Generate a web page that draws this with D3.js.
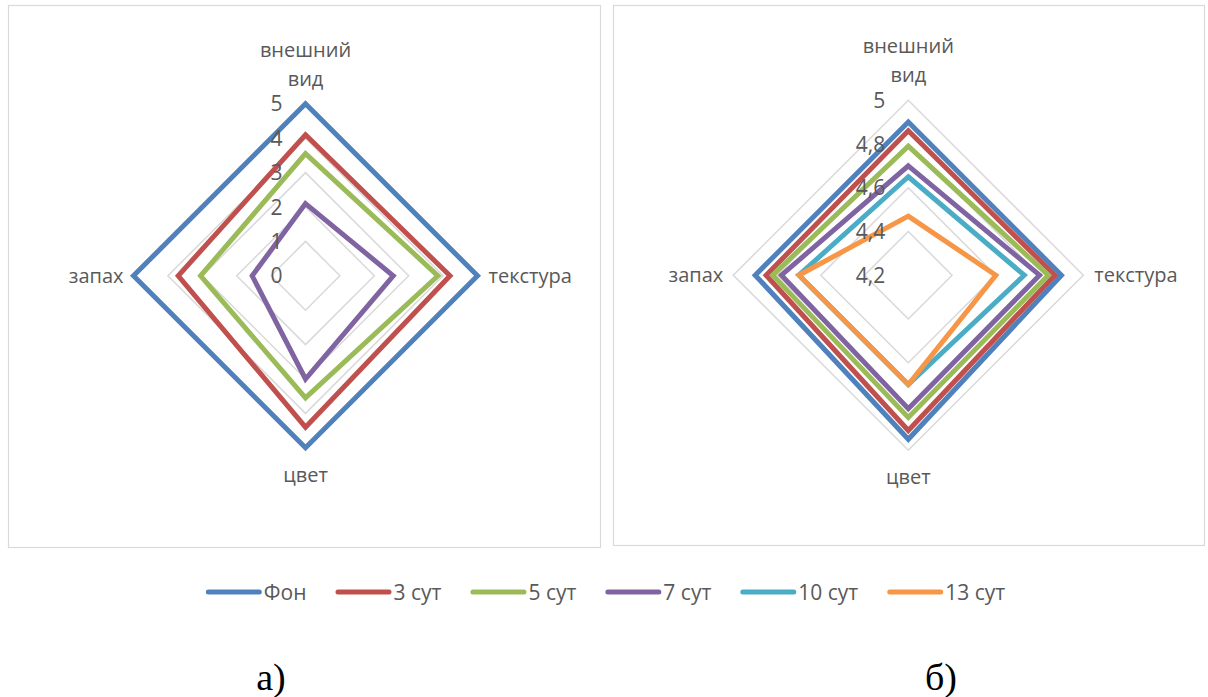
<!DOCTYPE html>
<html>
<head>
<meta charset="utf-8">
<script src="https://cdnjs.cloudflare.com/ajax/libs/d3/7.8.5/d3.min.js"></script>
<style>
  html, body { margin: 0; padding: 0; background: #fff; }
  svg { display: block; }
  .cat { font-family: "Open Sans", "Noto Sans", sans-serif; font-size: 20px; fill: #595959; }
  .tick { font-family: "Open Sans", "Noto Sans", sans-serif; font-size: 21px; fill: #595959; }
  .leg { font-family: "Open Sans", "Noto Sans", sans-serif; font-size: 21px; fill: #595959; }
  .cap { font-family: "Liberation Serif", "Times New Roman", serif; font-size: 38px; fill: #000; }
</style>
</head>
<body>
<svg id="chart" width="1208" height="697"></svg>
<script>
// Radar axes, clockwise from the top
const axes = ["внешний вид", "текстура", "цвет", "запах"];
const seriesNames = ["Фон", "3 сут", "5 сут", "7 сут", "10 сут", "13 сут"];

// Panel а): full 0–5 scale
const aFon = [5, 5, 5, 5];
const a3 = [4.1, 4.2, 4.4, 3.7];
const a5 = [3.55, 3.85, 3.55, 3.05];
const a7 = [2.1, 2.55, 3.0, 1.55];
const ticksA = [0, 1, 2, 3, 4, 5];

// Panel б): close-up 4,2–5 scale
const bFon = [4.9, 4.9, 4.95, 4.9];
const b3 = [4.86, 4.87, 4.91, 4.85];
const b5 = [4.79, 4.84, 4.85, 4.82];
const b7 = [4.7, 4.8, 4.81, 4.78];
const b10 = [4.65, 4.73, 4.7, 4.7];
const b13 = [4.47, 4.6, 4.7, 4.7];
const ticksB = [4.2, 4.4, 4.6, 4.8, 5];

const palette = ["#4F81BD", "#C0504D", "#9BBB59", "#8064A2", "#4BACC6", "#F79646"];
const fmt = d3.formatLocale({ decimal: ",", thousands: " ", grouping: [3], currency: ["", ""] }).format("~g");

const svg = d3.select("#chart");

function radar(opts) {
  const g = svg.append("g");
  // panel frame
  g.append("rect")
    .attr("x", opts.frame[0]).attr("y", opts.frame[1])
    .attr("width", opts.frame[2]).attr("height", opts.frame[3])
    .attr("fill", "#fff").attr("stroke", "#d9d9d9").attr("stroke-width", 1.2);

  const r = d3.scaleLinear().domain(opts.domain).range([0, opts.radius]);
  const angle = d3.scalePoint().domain(d3.range(axes.length + 1)).range([0, 2 * Math.PI]);
  const pt = (v, i) => {
    const a = angle(i);
    return [opts.cx + r(v) * Math.sin(a), opts.cy - r(v) * Math.cos(a)];
  };
  const ring = d3.line().curve(d3.curveLinearClosed);

  // grid rings
  g.selectAll("path.grid")
    .data(opts.ticks.filter(t => r(t) > 0))
    .join("path")
    .attr("class", "grid")
    .attr("d", t => ring(axes.map((_, i) => pt(t, i))))
    .attr("fill", "none").attr("stroke", "#d9d9d9").attr("stroke-width", 1.5);

  // series outlines
  g.selectAll("path.series")
    .data(opts.series)
    .join("path")
    .attr("class", "series")
    .attr("d", s => ring(s.values.map((v, i) => pt(v, i))))
    .attr("fill", "none")
    .attr("stroke", (s, i) => palette[i])
    .attr("stroke-width", 5)
    .attr("stroke-linejoin", "miter");

  // value labels along the vertical axis
  g.selectAll("text.tick")
    .data(opts.ticks)
    .join("text")
    .attr("class", "tick")
    .attr("x", opts.cx - 23)
    .attr("y", t => opts.cy - r(t))
    .attr("dy", "0.36em")
    .attr("text-anchor", "end")
    .text(t => fmt(t));

  // category labels
  const top = opts.cy - opts.radius;
  const bottom = opts.cy + opts.radius;
  const txtTop = g.append("text").attr("class", "cat").attr("text-anchor", "middle");
  const words = axes[0].split(" ");
  txtTop.selectAll("tspan").data(words).join("tspan")
    .attr("x", opts.cx)
    .attr("y", (w, i) => top - 18 - (words.length - 1 - i) * 29)
    .text(w => w);
  g.append("text").attr("class", "cat").attr("text-anchor", "start")
    .attr("x", opts.cx + opts.radius + 11).attr("y", opts.cy).attr("dy", "0.36em")
    .text(axes[1]);
  g.append("text").attr("class", "cat").attr("text-anchor", "middle")
    .attr("x", opts.cx).attr("y", bottom + 34)
    .text(axes[2]);
  g.append("text").attr("class", "cat").attr("text-anchor", "end")
    .attr("x", opts.cx - opts.radius - 10).attr("y", opts.cy).attr("dy", "0.36em")
    .text(axes[3]);
}

radar({
  frame: [8.5, 5.5, 592, 542],
  cx: 305.5, cy: 275.8, radius: 172,
  domain: [0, 5], ticks: ticksA,
  series: [aFon, a3, a5, a7].map((values, i) => ({ name: seriesNames[i], values }))
});

radar({
  frame: [613.5, 5.5, 591, 540],
  cx: 908.3, cy: 275.2, radius: 175,
  domain: [4.2, 5], ticks: ticksB,
  series: [bFon, b3, b5, b7, b10, b13].map((values, i) => ({ name: seriesNames[i], values }))
});

// shared legend
const legend = svg.append("g");
const legendGap = 29;
let lx = 0;
seriesNames.forEach((name, i) => {
  const item = legend.append("g");
  item.append("line")
    .attr("x1", 2.5).attr("x2", 53.5).attr("y1", 0).attr("y2", 0)
    .attr("stroke", palette[i]).attr("stroke-width", 5).attr("stroke-linecap", "round");
  const t = item.append("text").attr("class", "leg")
    .attr("x", 58).attr("y", 0).attr("dy", "0.36em").text(name);
  const w = 58 + t.node().getComputedTextLength();
  item.attr("transform", `translate(${lx},0)`);
  lx += w + legendGap;
});
const legendWidth = lx - legendGap;
legend.attr("transform", `translate(${605.5 - legendWidth / 2},592)`);

// panel captions
svg.append("text").attr("class", "cap").attr("x", 271).attr("y", 690).attr("text-anchor", "middle").text("а)");
svg.append("text").attr("class", "cap").attr("x", 941).attr("y", 690).attr("text-anchor", "middle").text("б)");
</script>
</body>
</html>
